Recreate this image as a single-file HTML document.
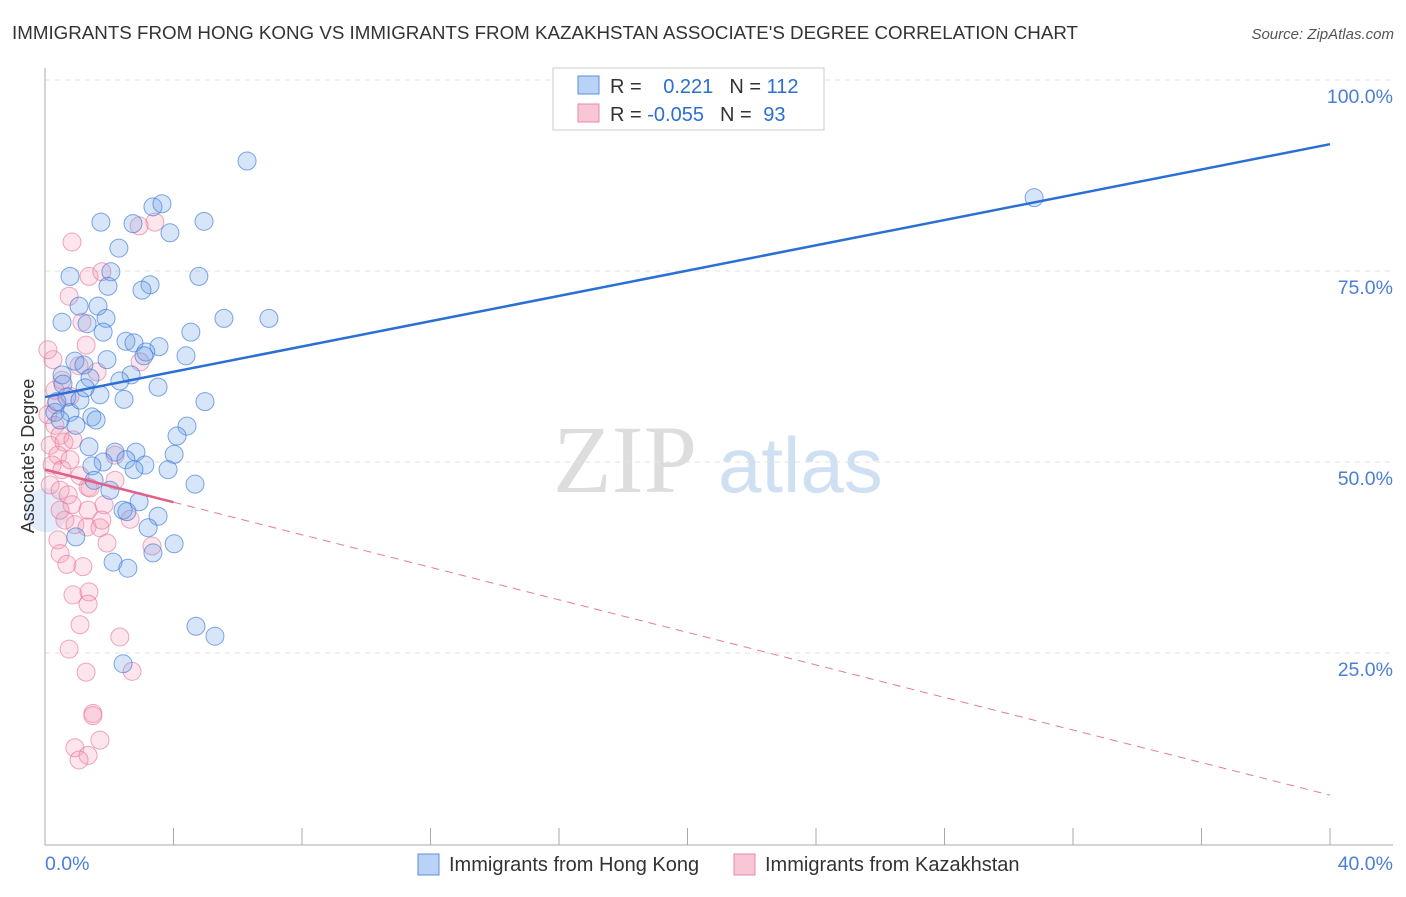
<!DOCTYPE html>
<html><head><meta charset="utf-8"><style>
body{margin:0;background:#fff;font-family:"Liberation Sans",sans-serif}
</style></head><body>
<svg width="1406" height="892" xmlns="http://www.w3.org/2000/svg" font-family="Liberation Sans, sans-serif">
<text x="12" y="39" font-size="18" fill="#333" textLength="1066" lengthAdjust="spacingAndGlyphs">IMMIGRANTS FROM HONG KONG VS IMMIGRANTS FROM KAZAKHSTAN ASSOCIATE'S DEGREE CORRELATION CHART</text>
<text x="1394" y="39" font-size="15" fill="#555" text-anchor="end" font-style="italic">Source: ZipAtlas.com</text>
<g><text x="553" y="492" font-size="96" fill="#ddd" font-family="Liberation Serif, serif">ZIP</text><text x="718" y="492" font-size="78" fill="#cfe0f3">atlas</text></g>
<g id="grid"></g><g id="axes"></g><g id="marks"></g><g id="lines"></g>
<text transform="translate(34,456) rotate(-90)" font-size="18" fill="#333" text-anchor="middle">Associate's Degree</text>
<g>
<rect x="553" y="68" width="271" height="62" fill="#fff" stroke="#ccc"/>
<rect x="578" y="76" width="21" height="18" fill="#b9d2f5" stroke="#5b8fdc"/>
<rect x="578" y="104" width="21" height="18" fill="#f9c6d6" stroke="#e88aa8"/>
<text x="610" y="93" font-size="20" fill="#333">R = <tspan fill="#2a6fd4" dx="16">0.221</tspan><tspan dx="16" fill="#333">N = </tspan><tspan fill="#2a6fd4">112</tspan></text>
<text x="610" y="121" font-size="20" fill="#333">R = <tspan fill="#2a6fd4">-0.055</tspan><tspan dx="16" fill="#333">N = </tspan><tspan fill="#2a6fd4" dx="6">93</tspan></text>
</g>
<g>
<rect x="418" y="854" width="21" height="21" fill="#b9d2f5" stroke="#5b8fdc"/>
<text x="449" y="871" font-size="20" fill="#333">Immigrants from Hong Kong</text>
<rect x="734" y="854" width="21" height="21" fill="#f9c6d6" stroke="#e88aa8"/>
<text x="765" y="871" font-size="20" fill="#333">Immigrants from Kazakhstan</text>
</g>
</svg>
<script>
const yTicks=[25,50,75,100];
const yTickLabels=["25.0%","50.0%","75.0%","100.0%"];
const xTicks=[0,4,8,12,16,20,24,28,32,36,40];
const xEndLabels=["0.0%","40.0%"];
const blueX=[6.29,30.79,1.74,2.74,3.36,3.64,4.95,3.89,2.30,0.78,2.05,1.96,3.27,3.02,4.79,1.06,1.65,5.57,6.97,0.53,1.31,1.90,1.81,4.54,2.52,2.77,3.55,3.14,3.08,4.39,1.93,0.93,1.21,0.53,1.40,2.68,3.52,2.33,0.56,1.71,2.46,4.98,0.31,0.78,1.46,1.59,0.47,0.96,4.42,4.11,1.37,2.18,2.83,2.52,4.02,1.81,1.46,3.11,2.77,3.83,4.67,2.02,1.53,2.93,2.43,3.52,2.55,0.96,2.12,2.58,3.36,3.21,4.02,4.70,5.29,2.43,0.68,0.37,1.09,1.25];
const blueY=[89.4,84.6,81.4,81.2,83.4,83.8,81.5,80.0,78.0,74.3,74.9,73.0,73.2,72.5,74.3,70.4,70.4,68.8,68.8,68.3,68.1,68.8,67.0,67.0,65.8,65.6,65.1,64.4,63.9,63.9,63.4,63.2,62.7,61.4,61.0,61.4,59.8,60.6,60.2,58.8,58.2,57.9,56.5,56.5,55.9,55.5,55.5,54.8,54.7,53.4,52.0,51.3,51.3,50.3,51.0,50.0,49.5,49.6,49.0,49.0,47.1,46.3,47.6,44.8,43.7,42.9,43.5,40.2,36.9,36.1,38.1,41.4,39.3,28.5,27.2,23.6,58.5,57.9,58.1,59.7];
const pinkX=[0.84,3.42,2.93,1.37,1.77,0.75,1.15,1.28,0.25,1.06,1.62,0.53,0.78,0.34,0.09,0.31,0.47,0.16,0.59,0.87,0.40,0.22,0.53,0.78,1.09,0.16,0.47,0.72,1.34,0.84,1.34,1.84,0.62,0.93,1.31,1.71,0.40,1.77,2.65,1.93,0.47,0.68,1.18,0.87,1.37,1.34,2.33,1.09,0.75,1.28,2.71,1.49,1.49,1.71,0.93,1.34,1.06,2.18,2.18,3.33,0.09,0.31,0.47,2.96,1.40];
const pinkY=[78.8,81.4,80.9,74.3,74.9,71.7,68.3,65.3,63.4,62.6,61.8,60.7,58.6,57.5,56.2,54.8,53.5,52.2,52.6,52.9,50.9,49.6,49.0,50.3,48.2,47.0,46.3,45.7,46.7,44.4,43.7,44.4,42.4,41.8,41.5,41.4,39.8,42.4,42.5,39.4,38.0,36.6,36.3,32.6,33.0,31.4,27.1,28.7,25.5,22.5,22.6,17.1,16.8,13.6,12.6,11.6,11.0,50.9,47.6,39.0,64.7,59.4,43.7,63.1,46.6];
const blueTrend=[[0,58.5],[40,91.6]];
const pinkTrend=[[0,49.0],[40,6.4]];
const pinkSolidEnd=4;
const NS="http://www.w3.org/2000/svg";
const X0=45,X1=1330,Y0=844,PX=7.64;
const xs=v=>X0+v/40*(X1-X0), ys=v=>Y0-v*PX;
function mk(t,a,p){const e=document.createElementNS(NS,t);for(const k in a)e.setAttribute(k,a[k]);p.appendChild(e);return e;}
const grid=document.getElementById('grid'),axes=document.getElementById('axes'),marks=document.getElementById('marks'),lines=document.getElementById('lines');
yTicks.forEach((v,i)=>{
 const l=mk('line',{x1:X0,x2:1393,y1:ys(v),y2:ys(v),stroke:'#e2e2e2','stroke-dasharray':'5,5'},grid);
 
 
 const t=mk('text',{x:1393,y:ys(v)+23,'font-size':19.5,fill:'#4a7fd4','text-anchor':'end'},axes);
 t.textContent=yTickLabels[i];
 
 
});
const ya=mk('line',{x1:X0,x2:X0,y1:68,y2:Y0+1,stroke:'#aaa'},axes);


const xa=mk('line',{x1:X0,x2:1393,y1:Y0+1,y2:Y0+1,stroke:'#aaa'},axes);


xTicks.forEach(v=>{
 const l=mk('line',{x1:xs(v),x2:xs(v),y1:828,y2:Y0+1,stroke:'#aaa'},axes);
 
 
});
[[0,'start',45],[40,'end',1393]].forEach((d,i)=>{
 const t=mk('text',{x:d[2],y:870,'font-size':19.5,fill:'#4a7fd4','text-anchor':d[1]},axes);
 t.textContent=xEndLabels[i];
 
 
});
const big=mk('circle',{cx:xs(0.05),cy:ys(43.7),r:22,fill:'rgba(110,160,235,0.2)',stroke:'none'},marks);


pinkX.forEach((v,i)=>{
 const c=mk('circle',{cx:xs(v),cy:ys(pinkY[i]),r:9,fill:'rgba(244,160,188,0.28)',stroke:'rgba(230,110,150,0.6)','stroke-width':1},marks);
 
 
});
blueX.forEach((v,i)=>{
 const c=mk('circle',{cx:xs(v),cy:ys(blueY[i]),r:9,fill:'rgba(110,160,235,0.28)',stroke:'rgba(60,120,215,0.65)','stroke-width':1},marks);
 
 
});
const bl=mk('line',{x1:xs(blueTrend[0][0]),y1:ys(blueTrend[0][1]),x2:xs(blueTrend[1][0]),y2:ys(blueTrend[1][1]),stroke:'#2a6fd4','stroke-width':2.5},lines);


const py=x=>pinkTrend[0][1]+(pinkTrend[1][1]-pinkTrend[0][1])*(x-pinkTrend[0][0])/(pinkTrend[1][0]-pinkTrend[0][0]);
const pd=mk('line',{x1:xs(pinkSolidEnd),y1:ys(py(pinkSolidEnd)),x2:xs(pinkTrend[1][0]),y2:ys(pinkTrend[1][1]),stroke:'#e67a9e','stroke-width':1,'stroke-dasharray':'8,6'},lines);


const ps=mk('line',{x1:xs(pinkTrend[0][0]),y1:ys(pinkTrend[0][1]),x2:xs(pinkSolidEnd),y2:ys(py(pinkSolidEnd)),stroke:'#e0608a','stroke-width':2.5},lines);


</script>
</body></html>
